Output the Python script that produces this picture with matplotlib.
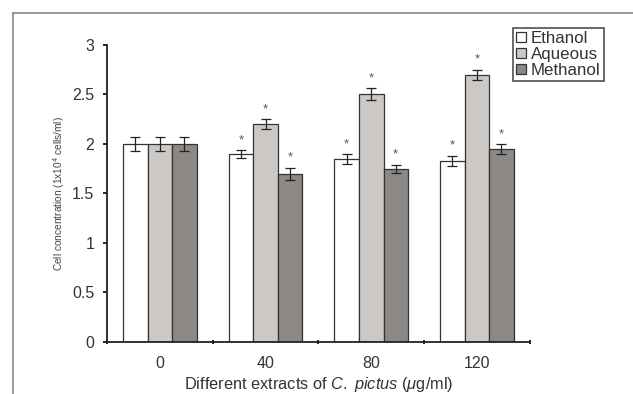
import numpy as np
import matplotlib.pyplot as plt
from matplotlib.lines import Line2D

plt.rcParams['font.family'] = ['Liberation Sans', 'DejaVu Sans']
plt.rcParams['mathtext.fontset'] = 'custom'
plt.rcParams['mathtext.rm'] = 'Liberation Sans'
plt.rcParams['mathtext.it'] = 'Liberation Sans:italic'

# Datos
doses = ['0', '40', '80', '120']
series = ['Ethanol', 'Aqueous', 'Methanol']
ethanol = [2.0, 1.9, 1.85, 1.83]
aqueous = [2.0, 2.2, 2.5, 2.7]
methanol = [2.0, 1.7, 1.75, 1.95]
ethanol_err = [0.07, 0.04, 0.05, 0.05]
aqueous_err = [0.07, 0.05, 0.06, 0.05]
methanol_err = [0.07, 0.06, 0.04, 0.05]
# significancia (*)
ethanol_sig = [False, True, True, True]
aqueous_sig = [False, True, True, True]
methanol_sig = [False, True, True, True]

colors = ['white', '#ccc8c5', '#8b8885']

fig = plt.figure(figsize=(6.33, 3.94), dpi=100)
ax = fig.add_axes([0.169, 0.132, 0.668, 0.754])

x = np.arange(len(doses)) + 0.5
w = 0.232
vals = [ethanol, aqueous, methanol]
errs = [ethanol_err, aqueous_err, methanol_err]
sigs = [ethanol_sig, aqueous_sig, methanol_sig]
for i in range(3):
    pos = x + (i - 1) * w
    ax.bar(pos, vals[i], w, color=colors[i], edgecolor='#333333', linewidth=0.9,
           label=series[i])
    ax.errorbar(pos, vals[i], yerr=errs[i], fmt='none', ecolor='#222222',
                elinewidth=0.9, capsize=3.5, capthick=0.9)
    for p, v, e, s in zip(pos, vals[i], errs[i], sigs[i]):
        if s:
            ax.text(p, v + e + 0.1, '*', ha='center', va='center', fontsize=9.5,
                    color='#555555')

ax.set_xlim(0, 4)
ax.set_ylim(0, 3)
ax.set_yticks(np.arange(0, 3.01, 0.5))
ax.set_yticklabels(['0', '0.5', '1', '1.5', '2', '2.5', '3'])
ax.set_xticks([0, 1, 2, 3, 4])
ax.set_xticklabels([])
ax.set_xticks(x, minor=True)
ax.set_xticklabels(doses, minor=True)
ax.tick_params(axis='x', which='minor', length=0, pad=10, labelsize=11.5, colors='#333333')
ax.tick_params(axis='x', which='major', length=3, width=1.2, direction='inout')
ax.tick_params(axis='y', length=3, width=1.2, direction='out', labelsize=11.5,
               labelcolor='#333333', pad=6)
for s in ['top', 'right']:
    ax.spines[s].set_visible(False)
for s in ['left', 'bottom']:
    ax.spines[s].set_linewidth(1.3)
    ax.spines[s].set_color('#222222')

ax.set_ylabel('Cell concentration (1x10$^{4}$ cells/ml)', fontsize=7.3, color='#444444', labelpad=4)
ax.set_xlabel(r'Different extracts of $\mathit{C.\ pictus}$ ($\mu$g/ml)', fontsize=11.8,
              color='#333333', labelpad=3)

leg = ax.legend(loc='upper left', bbox_to_anchor=(0.96, 1.057), fontsize=12.2,
                frameon=True, fancybox=False, edgecolor='#222222', handlelength=0.55,
                handleheight=0.55, handletextpad=0.3, borderpad=0.2, labelspacing=0.05,
                borderaxespad=0)
leg.get_frame().set_linewidth(1.2)
for t in leg.get_texts():
    t.set_color('#333333')

# marco de la figura
fig.add_artist(Line2D([0.021, 0.021], [0.967, 0.0], color='#888888', linewidth=1.2))
fig.add_artist(Line2D([0.021, 1.0], [0.967, 0.967], color='#888888', linewidth=1.2))

fig.savefig('out.png', dpi=100)
